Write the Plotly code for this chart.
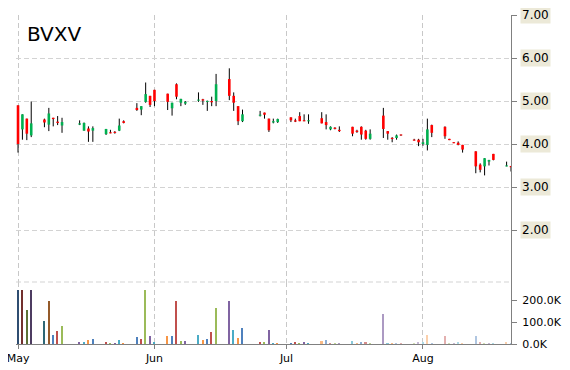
import plotly.graph_objects as go

# ---------------- data ----------------
dates = [
    "2018-05-01", "2018-05-02", "2018-05-03", "2018-05-04", "2018-05-07", "2018-05-08", "2018-05-09",
    "2018-05-10", "2018-05-11", "2018-05-15", "2018-05-16", "2018-05-17", "2018-05-18", "2018-05-21",
    "2018-05-22", "2018-05-23", "2018-05-24", "2018-05-25", "2018-05-28", "2018-05-29", "2018-05-30",
    "2018-05-31", "2018-06-01", "2018-06-04", "2018-06-05", "2018-06-06", "2018-06-07", "2018-06-08",
    "2018-06-11", "2018-06-12", "2018-06-13", "2018-06-14", "2018-06-15", "2018-06-18", "2018-06-19",
    "2018-06-20", "2018-06-21", "2018-06-25", "2018-06-26", "2018-06-27", "2018-06-28", "2018-06-29",
    "2018-07-02", "2018-07-03", "2018-07-04", "2018-07-05", "2018-07-06", "2018-07-09", "2018-07-10",
    "2018-07-11", "2018-07-12", "2018-07-13", "2018-07-16", "2018-07-17", "2018-07-18", "2018-07-19",
    "2018-07-20", "2018-07-23", "2018-07-24", "2018-07-25", "2018-07-26", "2018-07-27", "2018-07-30",
    "2018-07-31", "2018-08-01", "2018-08-02", "2018-08-03", "2018-08-06", "2018-08-07", "2018-08-08",
    "2018-08-09", "2018-08-10", "2018-08-13", "2018-08-14", "2018-08-15", "2018-08-16", "2018-08-17",
    "2018-08-20", "2018-08-21",
]
opens = [
    4.90, 4.34, 4.59, 4.20, 4.57, 4.45, 4.61, 4.52, 4.43, 4.45, 4.31, 4.36, 4.31, 4.23,
    4.27, 4.28, 4.31, 4.53, 4.84, 4.80, 4.98, 5.12, 5.26, 5.17, 4.83, 5.39, 4.96, 4.94,
    5.01, 5.04, 4.98, 5.00, 5.00, 5.51, 5.12, 4.88, 4.53, 4.66, 4.73, 4.59, 4.50, 4.51,
    4.62, 4.55, 4.65, 4.55, 4.53, 4.60, 4.51, 4.34, 4.38, 4.33, 4.40, 4.31, 4.40, 4.31,
    4.12, 4.66, 4.30, 4.14, 4.14, 4.22, 4.10, 4.10, 4.00, 3.98, 4.44, 4.40, 4.12, 4.04,
    4.03, 3.98, 3.83, 3.52, 3.48, 3.59, 3.77, 3.48, 3.49,
]
highs = [
    4.90, 4.69, 4.59, 4.99, 4.59, 4.84, 4.61, 4.65, 4.61, 4.55, 4.50, 4.41, 4.41, 4.35,
    4.33, 4.30, 4.59, 4.55, 4.95, 4.88, 5.43, 5.12, 5.26, 5.17, 4.96, 5.41, 5.05, 5.00,
    5.20, 5.05, 5.01, 5.10, 5.63, 5.76, 5.20, 4.88, 4.80, 4.77, 4.73, 4.59, 4.59, 4.59,
    4.62, 4.59, 4.74, 4.69, 4.69, 4.74, 4.69, 4.41, 4.39, 4.41, 4.40, 4.33, 4.41, 4.33,
    4.34, 4.84, 4.30, 4.16, 4.22, 4.22, 4.12, 4.12, 4.12, 4.59, 4.45, 4.41, 4.12, 4.04,
    4.06, 3.98, 3.83, 3.55, 3.67, 3.63, 3.77, 3.59, 3.49,
]
lows = [
    3.80, 4.10, 4.09, 4.16, 4.39, 4.30, 4.41, 4.44, 4.26, 4.44, 4.31, 4.05, 4.05, 4.21,
    4.25, 4.24, 4.30, 4.48, 4.77, 4.67, 4.96, 4.86, 4.88, 4.79, 4.66, 5.04, 4.88, 4.91,
    4.98, 4.91, 4.77, 4.88, 4.88, 5.02, 4.77, 4.44, 4.51, 4.64, 4.59, 4.28, 4.48, 4.49,
    4.51, 4.51, 4.53, 4.53, 4.47, 4.48, 4.34, 4.32, 4.34, 4.28, 4.18, 4.26, 4.10, 4.10,
    4.10, 4.14, 4.10, 4.04, 4.10, 4.19, 4.08, 3.95, 3.96, 3.85, 4.16, 4.12, 4.09, 4.02,
    3.97, 3.80, 3.32, 3.34, 3.27, 3.50, 3.62, 3.48, 3.36,
]
closes = [
    4.00, 4.69, 4.24, 4.48, 4.50, 4.71, 4.58, 4.49, 4.51, 4.48, 4.49, 4.29, 4.37, 4.35,
    4.25, 4.26, 4.43, 4.49, 4.79, 4.88, 5.16, 4.91, 5.00, 4.98, 4.96, 5.10, 5.05, 4.98,
    5.03, 5.01, 5.00, 4.97, 5.39, 5.12, 4.96, 4.53, 4.69, 4.68, 4.68, 4.32, 4.53, 4.58,
    4.55, 4.52, 4.53, 4.53, 4.55, 4.48, 4.44, 4.40, 4.35, 4.30, 4.24, 4.28, 4.22, 4.12,
    4.24, 4.35, 4.24, 4.12, 4.20, 4.20, 4.08, 4.04, 4.04, 4.34, 4.26, 4.18, 4.09, 4.02,
    3.98, 3.87, 3.48, 3.40, 3.67, 3.63, 3.63, 3.50, 3.46,
]
volumes = [
    245000, 245000, 155000, 245000, 105000, 195000, 41000, 59000, 82000, 9000, 6000, 18000, 23000, 9000,
    4000, 4000, 18000, 4000, 31000, 23000, 245000, 36000, 9000, 36000, 36000, 195000, 14000, 14000,
    41000, 18000, 23000, 55000, 164000, 195000, 64000, 27000, 73000, 9000, 9000, 64000, 4000, 4000,
    4000, 9000, 4000, 9000, 4000, 14000, 18000, 4000, 4000, 4000, 14000, 4000, 9000, 9000,
    4000, 136000, 4000, 4000, 4000, 4000, 3000, 9000, 6000, 41000, 4000, 36000, 4000, 4000,
    9000, 4000, 36000, 9000, 4000, 4000, 4000, 9000, 3000,
]

month_ticks = ["2018-05-01", "2018-06-01", "2018-07-01", "2018-08-01"]
month_labels = ["May", "Jun", "Jul", "Aug"]
price_ticks = [2, 3, 4, 5, 6, 7]
price_tick_labels = ["2.00", "3.00", "4.00", "5.00", "6.00", "7.00"]
vol_ticks = [0, 100000, 200000]
vol_tick_labels = ["0.0K", "100.0K", "200.0K"]

# ---------------- styling helpers ----------------
UP = "#00B050"
DOWN = "#FF0000"
PALETTE = ["#4F81BD", "#C0504D", "#9BBB59", "#8064A2", "#4BACC6", "#F79646"]
DAY_MS = 86400000


def mix(hex_color, target, t):
    r, g, b = (int(hex_color[i:i + 2], 16) for i in (1, 3, 5))
    tr, tg, tb = target
    r = round(r + (tr - r) * t)
    g = round(g + (tg - g) * t)
    b = round(b + (tb - b) * t)
    return "#%02X%02X%02X" % (r, g, b)


def vol_color(i):
    base = PALETTE[i % len(PALETTE)]
    if i < 6:
        return mix(base, (0, 0, 0), 0.40)
    if i < 47:
        return base
    if i < 60:
        return mix(base, (255, 255, 255), 0.35)
    return mix(base, (255, 255, 255), 0.55)


wick_x, wick_y = [], []
for d, h, l in zip(dates, highs, lows):
    wick_x += [d, d, None]
    wick_y += [l, h, None]

MIN_BODY = 0.025
up_x, up_y, dn_x, dn_y = [], [], [], []
for d, o, c in zip(dates, opens, closes):
    lo, hi = min(o, c), max(o, c)
    if hi - lo < MIN_BODY:
        mid = (hi + lo) / 2
        lo, hi = mid - MIN_BODY / 2, mid + MIN_BODY / 2
    if c >= o:
        up_x += [d, d, None]
        up_y += [lo, hi, None]
    else:
        dn_x += [d, d, None]
        dn_y += [lo, hi, None]

vol_cols = [vol_color(i) for i in range(len(volumes))]

fig = go.Figure()
fig.add_trace(go.Scatter(x=wick_x, y=wick_y, mode="lines",
                         line=dict(color="#000000", width=1), xaxis="x", yaxis="y",
                         hoverinfo="skip"))
fig.add_trace(go.Scatter(x=up_x, y=up_y, mode="lines",
                         line=dict(color=UP, width=2.6), xaxis="x", yaxis="y", hoverinfo="skip"))
fig.add_trace(go.Scatter(x=dn_x, y=dn_y, mode="lines",
                         line=dict(color=DOWN, width=2.6), xaxis="x", yaxis="y", hoverinfo="skip"))
fig.add_trace(go.Bar(x=dates, y=volumes, width=0.35 * DAY_MS,
                     marker=dict(color=vol_cols, line=dict(width=0)), xaxis="x", yaxis="y2"))

FONT = "DejaVu Sans"
split = (344 - 282) / 329.0
dash = "5px,3px"

annotations = [dict(x=0.018, y=0.942, xref="paper", yref="paper", xanchor="left", yanchor="middle",
                    text="BVXV", showarrow=False, font=dict(family=FONT, size=20, color="#000000"))]
for v, t in zip(price_ticks, price_tick_labels):
    annotations.append(dict(x=1, xref="paper", xanchor="left", xshift=9, y=v, yref="y",
                            yanchor="middle", text=t, showarrow=False, bgcolor="#ECE9D8",
                            borderpad=1, font=dict(family=FONT, size=12, color="#000000")))

# the page body adds an 8px offset, so the figure is 8px smaller and margins shifted
fig.update_layout(
    width=562, height=362,
    margin=dict(l=8, r=59, t=7, b=26, autoexpand=False),
    paper_bgcolor="white", plot_bgcolor="white",
    showlegend=False, barmode="overlay", bargap=0,
    xaxis=dict(type="date", range=["2018-04-30 13:00", "2018-08-21 00:00"],
               tickvals=month_ticks, ticktext=month_labels, ticklabeloverflow="allow",
               showgrid=True, gridcolor="#C8C8C8", griddash=dash, gridwidth=1,
               showline=True, linecolor="#808080", linewidth=1,
               ticks="outside", ticklen=4, tickcolor="#808080",
               tickfont=dict(family=FONT, size=11, color="#000000"),
               zeroline=False, anchor="y2", automargin=False),
    yaxis=dict(domain=[split, 1], range=[7 - 267 / 43.0, 7], side="right",
               tickvals=price_ticks, showticklabels=False,
               ticks="outside", ticklen=5, tickcolor="#808080",
               showline=True, linecolor="#808080", linewidth=1,
               showgrid=True, gridcolor="#D3D3D3", griddash=dash,
               zeroline=False, anchor="x", automargin=False),
    yaxis2=dict(domain=[0, split], range=[0, 282000], side="right",
                tickvals=vol_ticks, ticktext=vol_tick_labels, ticklabeloverflow="allow",
                ticks="outside", ticklen=5, tickcolor="#808080", ticklabelstandoff=3,
                showline=True, linecolor="#808080", linewidth=1,
                showgrid=False, zeroline=False, anchor="x", automargin=False,
                tickfont=dict(family=FONT, size=11, color="#000000")),
    annotations=annotations,
    shapes=[dict(type="line", xref="x domain", yref="y2 domain", x0=0, x1=1, y0=1, y1=1,
                 line=dict(color="#D3D3D3", width=1, dash=dash))],
)

fig.write_html("out.html")
